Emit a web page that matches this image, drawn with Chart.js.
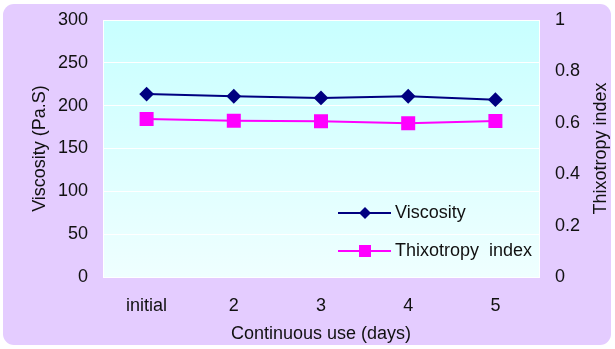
<!DOCTYPE html>
<html>
<head>
<meta charset="utf-8">
<script src="https://cdn.jsdelivr.net/npm/chart.js@4/dist/chart.umd.min.js"></script>
<style>
  html, body { margin: 0; padding: 0; background: #fff; }
  #wrap { width: 615px; height: 349px; }
</style>
</head>
<body>
<div id="wrap"><canvas id="grafico" width="615" height="349"></canvas></div>
<script>
// ===== datos =====
const dias = ["initial", "2", "3", "4", "5"];
const viscosidad = [213.5, 211, 209, 211, 207];
const tixotropia = [0.615, 0.608, 0.606, 0.598, 0.607];
const ticksViscosidad = [0, 50, 100, 150, 200, 250, 300];
const ticksTixotropia = [0, 0.2, 0.4, 0.6, 0.8, 1];

const FUENTE = "'Liberation Sans', Arial, sans-serif";

// fondo lila redondeado + area de grafico con degradado
const fondo = {
  id: "fondo",
  beforeDraw(chart) {
    const ctx = chart.ctx;
    const a = chart.chartArea;
    ctx.save();
    ctx.fillStyle = "#E4CCFF";
    ctx.beginPath();
    ctx.roundRect(3, 4, 608, 341, 11);
    ctx.fill();
    const g = ctx.createLinearGradient(0, a.top, 0, a.bottom);
    g.addColorStop(0, "#C8FFFF");
    g.addColorStop(1, "#EFFFFF");
    ctx.fillStyle = g;
    ctx.fillRect(a.left, a.top, a.right - a.left, a.bottom - a.top);
    ctx.restore();
  }
};

// leyenda dentro del area + titulo del eje derecho (leido de abajo hacia arriba)
const leyenda = {
  id: "leyenda",
  afterDraw(chart) {
    const ctx = chart.ctx;
    const a = chart.chartArea;
    const items = [
      { texto: "Viscosity", color: "#000080", forma: "diamante", y: 213 },
      { texto: "Thixotropy  index", color: "#FF00FF", forma: "cuadrado", y: 251 }
    ];
    ctx.save();
    items.forEach(it => {
      ctx.strokeStyle = it.color;
      ctx.lineWidth = 2;
      ctx.beginPath();
      ctx.moveTo(338, it.y);
      ctx.lineTo(391, it.y);
      ctx.stroke();
      ctx.fillStyle = it.color;
      ctx.beginPath();
      if (it.forma === "diamante") {
        ctx.moveTo(365, it.y - 6);
        ctx.lineTo(371, it.y);
        ctx.lineTo(365, it.y + 6);
        ctx.lineTo(359, it.y);
        ctx.closePath();
      } else {
        ctx.rect(359, it.y - 6, 12, 12);
      }
      ctx.fill();
      ctx.fillStyle = "#111";
      ctx.font = "18px " + FUENTE;
      ctx.textBaseline = "middle";
      ctx.fillText(it.texto, 395, it.y);
    });

    ctx.translate(601, (a.top + a.bottom) / 2);
    ctx.rotate(-Math.PI / 2);
    ctx.textAlign = "center";
    ctx.textBaseline = "middle";
    ctx.fillStyle = "#111";
    ctx.font = "18px " + FUENTE;
    ctx.fillText("Thixotropy index", 0, 0);
    ctx.restore();
  }
};

new Chart(document.getElementById("grafico"), {
  type: "line",
  data: {
    labels: dias,
    datasets: [
      {
        label: "Viscosity",
        data: viscosidad,
        yAxisID: "y",
        borderColor: "#000080",
        backgroundColor: "#000080",
        borderWidth: 2,
        pointStyle: "rectRot",
        pointRadius: 6,
        pointHoverRadius: 6,
        tension: 0
      },
      {
        label: "Thixotropy index",
        data: tixotropia,
        yAxisID: "y1",
        borderColor: "#FF00FF",
        backgroundColor: "#FF00FF",
        borderWidth: 2,
        pointStyle: "rect",
        pointRadius: 8.5,
        pointHoverRadius: 8.5,
        tension: 0
      }
    ]
  },
  options: {
    responsive: false,
    animation: false,
    layout: { padding: { top: 20, left: 0, right: 0, bottom: 0 } },
    plugins: { legend: { display: false }, tooltip: { enabled: false } },
    scales: {
      x: {
        offset: true,
        grid: { display: false },
        border: { display: false },
        ticks: { color: "#111", font: { size: 18, family: FUENTE }, padding: 10, maxRotation: 0 },
        title: { display: true, text: "Continuous use (days)", color: "#111", font: { size: 18, family: FUENTE }, padding: { top: 0, bottom: 4 } },
        afterFit(s) { s.height = 72; s.paddingLeft = 0; s.paddingRight = 0; }
      },
      y: {
        position: "left",
        min: 0,
        max: 300,
        afterBuildTicks(s) { s.ticks = ticksViscosidad.map(v => ({ value: v })); },
        grid: { color: "#FFFFFF", lineWidth: 1, drawTicks: false },
        border: { display: true, color: "#FFFFFF" },
        ticks: { color: "#111", font: { size: 18, family: FUENTE }, padding: 15 },
        title: { display: true, text: "Viscosity (Pa.S)", color: "#111", font: { size: 18, family: FUENTE }, padding: { top: 29, bottom: 0 } },
        afterFit(s) { s.width = 103; s.paddingTop = 0; s.paddingBottom = 0; }
      },
      y1: {
        position: "right",
        min: 0,
        max: 1,
        afterBuildTicks(s) { s.ticks = ticksTixotropia.map(v => ({ value: v })); },
        grid: { display: false, drawTicks: false },
        border: { display: true, color: "#FFFFFF" },
        ticks: { color: "#111", font: { size: 18, family: FUENTE }, padding: 16, callback: v => String(v) },
        title: { display: false },
        afterFit(s) { s.width = 76; s.paddingTop = 0; s.paddingBottom = 0; }
      }
    }
  },
  plugins: [fondo, leyenda]
});
</script>
</body>
</html>
